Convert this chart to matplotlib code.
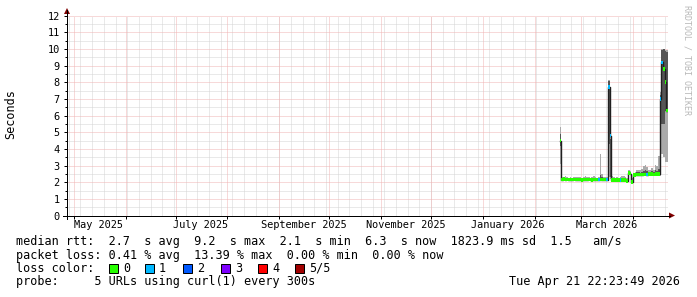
from datetime import datetime, timedelta

import matplotlib
matplotlib.use("Agg")
import matplotlib.dates as mdates
from matplotlib import pyplot as plt
from matplotlib.patches import Polygon, Rectangle

MONO = "DejaVu Sans Mono"

# graph window
end_time = datetime(2026, 4, 21, 22, 23, 49)
start_time = end_time - timedelta(days=360)

# one bin per day, first bin Feb 16 2026
first_bin = datetime(2026, 2, 16)

median = [
    4.50, 2.15, 2.18, 2.15, 2.17, 2.15, 2.16, 2.15, 2.17, 2.15, 2.15, 2.16, 2.15,
    2.14, 2.16, 2.15, 2.15, 2.17, 2.15, 2.14, 2.15, 2.16, 2.15, 2.15, 2.17, 2.16,
    2.15, 2.16, 2.15, 7.70, 4.80, 2.13, 2.13, 2.14, 2.13, 2.12, 2.13, 2.13, 2.14,
    2.13, 2.08, 2.55, 2.52, 2.02, 2.42, 2.44, 2.45, 2.45, 2.46, 2.46, 2.47, 2.47,
    2.46, 2.48, 2.48, 2.48, 2.47, 2.48, 2.49, 2.50, 7.00, 9.20, 8.80, 8.00, 6.30,
]
loss = [
    0, 0, 0, 0, 0, 0, 0, 0, 0, 0, 0, 0, 0,
    0, 0, 0, 0, 0, 0, 0, 0, 0, 0, 1, 0, 0,
    0, 0, 1, 1, 1, 0, 0, 0, 0, 0, 1, 0, 0,
    0, 0, 0, 0, 0, 0, 0, 0, 0, 0, 0, 0, 0,
    1, 0, 0, 0, 0, 0, 0, 0, 1, 1, 0, 0, 0,
]
smoke_lo = [
    3.10, 2.08, 2.10, 2.08, 2.10, 2.08, 2.09, 2.08, 2.10, 2.08, 2.09, 2.09, 2.08,
    2.08, 2.09, 2.08, 2.08, 2.10, 2.08, 2.08, 2.08, 2.09, 2.08, 2.08, 2.10, 2.10,
    2.08, 2.09, 2.08, 2.30, 2.20, 2.07, 2.07, 2.08, 2.07, 2.06, 2.07, 2.07, 2.08,
    2.07, 2.02, 2.45, 2.45, 1.98, 2.35, 2.36, 2.37, 2.37, 2.38, 2.38, 2.38, 2.38,
    2.38, 2.39, 2.39, 2.39, 2.38, 2.39, 2.40, 2.40, 2.40, 3.70, 3.50, 3.20, 3.20,
]
smoke_hi = [
    5.30, 2.32, 2.30, 2.36, 2.34, 2.28, 2.30, 2.28, 2.30, 2.30, 2.34, 2.32, 2.30,
    2.28, 2.30, 2.34, 2.30, 2.32, 2.28, 2.30, 2.34, 2.30, 2.28, 2.32, 3.70, 2.50,
    2.30, 2.32, 2.30, 8.10, 5.00, 2.37, 2.30, 2.28, 2.30, 2.28, 2.30, 2.35, 2.35,
    2.30, 2.25, 2.75, 2.70, 2.25, 2.55, 2.62, 2.72, 2.75, 2.70, 2.80, 2.95, 3.00,
    2.90, 2.75, 2.72, 2.85, 2.75, 3.05, 2.95, 3.60, 7.40, 10.00, 10.00, 9.90, 9.90,
]
dark_lo = [
    4.20, 2.12, 2.14, 2.12, 2.13, 2.12, 2.12, 2.12, 2.13, 2.12, 2.12, 2.13, 2.12,
    2.11, 2.13, 2.12, 2.12, 2.14, 2.12, 2.11, 2.12, 2.13, 2.12, 2.12, 2.14, 2.13,
    2.12, 2.13, 2.12, 4.30, 2.30, 2.10, 2.10, 2.11, 2.10, 2.09, 2.10, 2.10, 2.11,
    2.10, 2.05, 2.50, 2.48, 2.00, 2.39, 2.40, 2.41, 2.41, 2.42, 2.42, 2.43, 2.43,
    2.42, 2.44, 2.44, 2.44, 2.43, 2.44, 2.45, 2.45, 2.50, 5.50, 5.50, 6.30, 6.30,
]
dark_hi = [
    4.90, 2.22, 2.24, 2.26, 2.24, 2.20, 2.22, 2.21, 2.24, 2.22, 2.24, 2.24, 2.22,
    2.21, 2.23, 2.24, 2.22, 2.24, 2.21, 2.22, 2.24, 2.23, 2.21, 2.24, 2.45, 2.30,
    2.22, 2.24, 2.22, 8.10, 4.60, 2.22, 2.20, 2.20, 2.20, 2.19, 2.20, 2.24, 2.24,
    2.20, 2.14, 2.62, 2.60, 2.10, 2.50, 2.54, 2.58, 2.60, 2.58, 2.62, 2.70, 2.72,
    2.66, 2.60, 2.60, 2.66, 2.60, 2.70, 2.66, 2.80, 7.20, 9.90, 10.00, 9.90, 9.80,
]

loss_colors = ["#26ff00", "#00b8ff", "#0059ff", "#7e00ff", "#ff0000", "#a10000"]
loss_labels = ["0", "1", "2", "3", "4", "5/5"]

label_months = [datetime(2025, 5, 1), datetime(2025, 7, 1), datetime(2025, 9, 1),
                datetime(2025, 11, 1), datetime(2026, 1, 1), datetime(2026, 3, 1)]
month_names = ["May 2025", "July 2025", "September 2025",
               "November 2025", "January 2026", "March 2026"]

legend_lines = [
    "median rtt:  2.7  s avg  9.2  s max  2.1  s min  6.3  s now  1823.9 ms sd  1.5   am/s",
    "packet loss: 0.41 % avg  13.39 % max  0.00 % min  0.00 % now",
    "loss color:",
    "probe:     5 URLs using curl(1) every 300s",
]
stamp = "Tue Apr 21 22:23:49 2026"

W, H = 697, 297
fig = plt.figure(figsize=(W / 100, H / 100), dpi=100)
fig.patch.set_facecolor("white")

# plot area in pixels
x0, x1, ytop, ybot = 67, 668, 15.5, 215.5
ax = fig.add_axes([x0 / W, (H - ybot) / H, (x1 - x0) / W, (ybot - ytop) / H])
ax.set_xlim(start_time, end_time)
ax.set_ylim(0, 12)
for s in ax.spines.values():
    s.set_visible(False)

# grid: weekly minor, monthly major, 0.5 / 1 s horizontal
minor_c = "#d4d4d4"
major_c = "#f0b4b4"
dot = (0, (1, 1))
months = []
y, m = 2025, 5
while datetime(y, m, 1) < end_time:
    months.append(datetime(y, m, 1))
    m += 1
    if m > 12:
        y, m = y + 1, 1
d = start_time.replace(hour=0, minute=0, second=0)
while d.weekday() != 0:
    d += timedelta(days=1)
while d < end_time:
    ax.axvline(d, color=minor_c, lw=0.72, ls=dot, zorder=0)
    d += timedelta(days=7)
for k in range(1, 24, 2):
    ax.axhline(k * 0.5, color=minor_c, lw=0.72, ls=dot, zorder=0)
for mo in months:
    ax.axvline(mo, color=major_c, lw=0.72, ls=dot, zorder=0.5)
for v in range(1, 13):
    ax.axhline(v, color=major_c, lw=0.72, ls=dot, zorder=0.5)

# smoke and median
bins = [first_bin + timedelta(days=i) for i in range(len(median))]
ax.bar(bins, [h - l for l, h in zip(smoke_lo, smoke_hi)], bottom=smoke_lo,
       width=1.0, align="edge", color="#aaaaaa", linewidth=0, zorder=2)
ax.bar(bins, [h - l for l, h in zip(dark_lo, dark_hi)], bottom=dark_lo,
       width=1.0, align="edge", color="#555555", linewidth=0, zorder=3)
edges = bins + [bins[-1] + timedelta(days=1)]
ax.step(edges, median + [median[-1]], where="post", color="#202020", lw=1.0, zorder=4)
ax.bar(bins, 0.2, bottom=[v - 0.1 for v in median], width=1.0, align="edge",
       color=[loss_colors[c] for c in loss], linewidth=0, zorder=5)

# axes ticks / labels
ax.set_yticks(range(13))
ax.set_yticks([k * 0.5 for k in range(1, 24, 2)], minor=True)
ax.tick_params(axis="y", which="major", direction="out", length=2.2, width=0.72,
               pad=3, labelsize=7.4, colors="black")
ax.tick_params(axis="y", which="minor", direction="out", length=1.4, width=0.72)
for t in ax.get_yticklabels():
    t.set_fontfamily(MONO)
ax.set_xticks(months)
ax.set_xticklabels([])
ax.tick_params(axis="x", direction="out", length=2.2, width=0.72)

for mo, lab in zip(label_months, month_names):
    xc = mdates.date2num(mo + timedelta(days=15))
    ax.text(xc, -0.6, lab, ha="center", va="center", fontsize=7.4, family=MONO,
            clip_on=False)

# overlay for frame, arrows and legend (pixel coordinates)
ov = fig.add_axes([0, 0, 1, 1], zorder=10)
ov.set_xlim(0, W)
ov.set_ylim(H, 0)
ov.axis("off")
ov.patch.set_alpha(0)
ov.plot([x0, x0], [219, 10], color="black", lw=0.72)
ov.plot([63, 670], [ybot, ybot], color="black", lw=0.72)
ov.add_patch(Polygon([[x0 - 3, 14], [x0 + 3, 14], [x0, 8]], color="#800000", lw=0))
ov.add_patch(Polygon([[669, ybot - 3], [669, ybot + 3], [675, ybot]], color="#800000", lw=0))

ov.text(11, 114, "Seconds", rotation=90, ha="center", va="center", fontsize=8.5, family=MONO)
ov.text(687, 5, "RRDTOOL / TOBI OETIKER", rotation=270, ha="center", va="top",
        fontsize=6, family=MONO, color="#b8b8b8")

rows = [241, 255, 268, 282]
for yy, line in zip(rows, legend_lines):
    ov.text(16, yy, line, ha="left", va="center", fontsize=8.5, family=MONO)
ov.text(680, rows[3], stamp, ha="right", va="center", fontsize=8.5, family=MONO)

sq_x = [109, 145, 183, 221, 258, 295]
for sx, col, lab in zip(sq_x, loss_colors, loss_labels):
    ov.add_patch(Rectangle((sx, rows[2] - 4.5), 9, 9, facecolor=col, edgecolor="black", lw=0.72))
    ov.text(sx + 14, rows[2], lab, ha="left", va="center", fontsize=8.5, family=MONO)

fig.savefig("out.png", dpi=100)
